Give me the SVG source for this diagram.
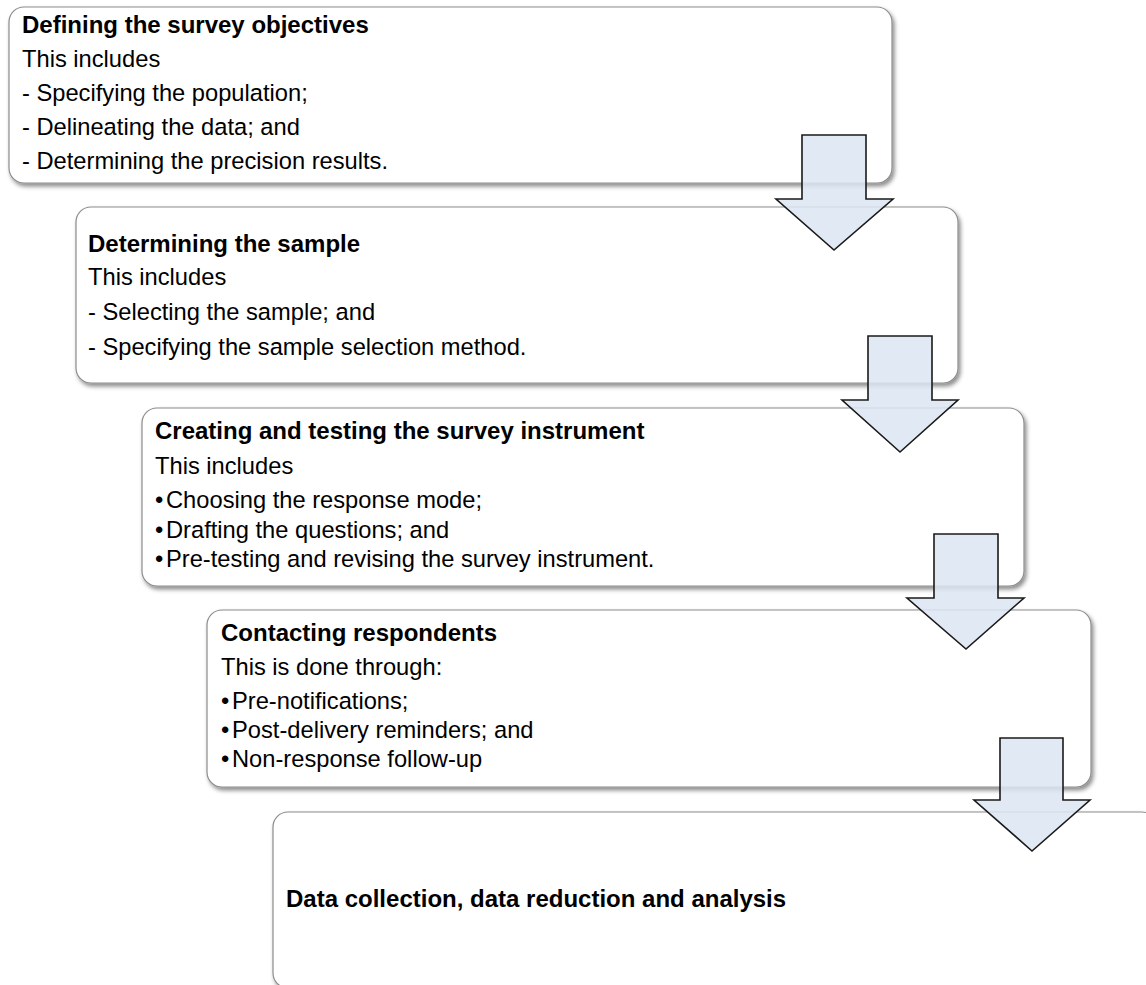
<svg xmlns="http://www.w3.org/2000/svg" width="1146" height="985" viewBox="0 0 1146 985">
<defs>
<filter id="sh" x="-5%" y="-10%" width="110%" height="125%">
<feDropShadow dx="2" dy="3" stdDeviation="2" flood-color="#000" flood-opacity="0.45"/>
</filter>
<style>
.box{fill:#fff;stroke:#8c8c8c;stroke-width:1.2;filter:url(#sh)}
.arr{fill:#dce6f2;fill-opacity:0.85;stroke:#1a1a1a;stroke-width:1.6;stroke-linejoin:miter}
text{font-family:"Liberation Sans",Arial,sans-serif;font-size:23.7px;fill:#000}
.t{font-weight:bold;font-size:24px}
</style>
</defs>
<rect width="1146" height="985" fill="#fff"/>
<g id="node1">
<rect class="box" x="9" y="7" width="883" height="176" rx="15"/>
<text x="22" y="33" class="t">Defining the survey objectives</text>
<text x="22" y="67">This includes</text>
<text x="22" y="101">- Specifying the population;</text>
<text x="22" y="135">- Delineating the data; and</text>
<text x="22" y="169">- Determining the precision results.</text>
</g>
<g id="node2">
<rect class="box" x="76" y="207" width="882" height="176" rx="15"/>
<text x="88" y="252" class="t">Determining the sample</text>
<text x="88" y="285">This includes</text>
<text x="88" y="320">- Selecting the sample; and</text>
<text x="88" y="355">- Specifying the sample selection method.</text>
</g>
<g id="node3">
<rect class="box" x="142" y="408" width="882" height="178" rx="15"/>
<text x="155" y="439" class="t">Creating and testing the survey instrument</text>
<text x="155" y="474">This includes</text>
<text x="155" y="508">•<tspan x="166">Choosing the response mode;</tspan></text>
<text x="155" y="538">•<tspan x="166">Drafting the questions; and</tspan></text>
<text x="155" y="567">•<tspan x="166">Pre-testing and revising the survey instrument.</tspan></text>
</g>
<g id="node4">
<rect class="box" x="207" y="610" width="884" height="177" rx="15"/>
<text x="221" y="641" class="t">Contacting respondents</text>
<text x="221" y="675">This is done through:</text>
<text x="221" y="709">•<tspan x="232">Pre-notifications;</tspan></text>
<text x="221" y="738">•<tspan x="232">Post-delivery reminders; and</tspan></text>
<text x="221" y="767">•<tspan x="232">Non-response follow-up</tspan></text>
</g>
<g id="node5">
<rect class="box" x="273" y="812" width="884" height="176" rx="15"/>
<text x="286" y="907" class="t">Data collection, data reduction and analysis</text>
</g>
<g id="connectors">
<path class="arr" d="M802,135 H866 V199 H893 L834,250 L776,199 H802 Z"/>
<path class="arr" d="M868,336 H932 V400 H958 L900,452 L842,400 H868 Z"/>
<path class="arr" d="M934,534 H998 V598 H1024 L966,649 L907,598 H934 Z"/>
<path class="arr" d="M1000,738 H1063 V800 H1090 L1032,851 L974,800 H1000 Z"/>
</g>
</svg>
